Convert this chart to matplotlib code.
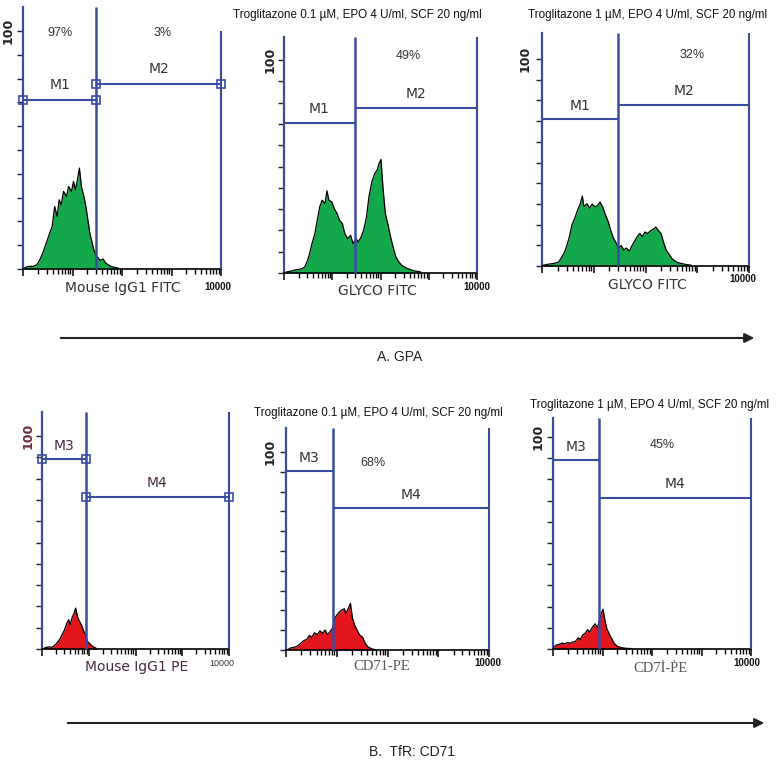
import numpy as np
import matplotlib.pyplot as plt
from matplotlib.ticker import LogLocator, NullFormatter

W, H = 780, 764
fig = plt.figure(figsize=(W / 100, H / 100), dpi=100)

NARROW = ['Liberation Sans Narrow', 'Liberation Sans', 'DejaVu Sans']
BLUE = '#3a4ca2'
GREEN = '#13a84a'
RED = '#e3141c'

# histograms: position in decades (log10 of intensity) and height (% scale)
p1_u = [0.03, 0.10, 0.20, 0.28, 0.34, 0.40, 0.47, 0.54, 0.59, 0.64, 0.69, 0.73, 0.77, 0.82,
        0.88, 0.92, 0.98, 1.02, 1.06, 1.10, 1.14, 1.18, 1.23, 1.27, 1.31, 1.35, 1.39, 1.43,
        1.47, 1.52, 1.56, 1.62, 1.67, 1.72, 1.78, 1.85, 1.92]
p1_v = [0.4, 1.1, 1.1, 1.8, 3.9, 6.7, 10.9, 15.1, 17.9, 26.3, 22.1, 29.1, 27.0, 32.6,
        30.5, 34.7, 32.6, 36.8, 33.3, 37.5, 42.4, 34.7, 30.5, 26.3, 20.7, 15.1, 11.6, 8.1,
        6.0, 4.6, 3.6, 4.2, 2.5, 1.8, 1.1, 0.7, 0.4]

p2_u = [0.05, 0.15, 0.26, 0.36, 0.43, 0.49, 0.53, 0.58, 0.64, 0.69, 0.74, 0.79, 0.85, 0.89,
        0.93, 0.99, 1.04, 1.10, 1.15, 1.21, 1.26, 1.32, 1.38, 1.43, 1.49, 1.54, 1.60, 1.65,
        1.71, 1.76, 1.82, 1.88, 1.93, 1.97, 2.01, 2.05, 2.10, 2.15, 2.21, 2.26, 2.32, 2.38,
        2.44, 2.53, 2.62, 2.72, 2.83]
p2_v = [0.5, 0.9, 1.6, 1.9, 2.8, 6.0, 9.1, 13.8, 18.5, 24.8, 31.0, 34.2, 32.6, 38.6,
        34.2, 33.4, 30.3, 27.9, 24.8, 23.2, 18.5, 16.1, 17.7, 13.8, 16.1, 14.6, 16.9, 20.1,
        26.3, 35.7, 42.8, 46.7, 48.3, 51.4, 53.3, 40.4, 27.9, 23.2, 16.9, 12.2, 7.5, 5.2,
        3.6, 2.4, 1.6, 0.9, 0.5]

p3_u = [0.03, 0.13, 0.22, 0.32, 0.38, 0.44, 0.48, 0.53, 0.58, 0.63, 0.69, 0.74, 0.78, 0.81,
        0.87, 0.92, 0.97, 1.02, 1.07, 1.12, 1.17, 1.22, 1.28, 1.33, 1.38, 1.43, 1.48, 1.53,
        1.58, 1.63, 1.69, 1.74, 1.79, 1.84, 1.89, 1.94, 1.99, 2.04, 2.10, 2.15, 2.20, 2.25,
        2.30, 2.35, 2.40, 2.46, 2.52, 2.60, 2.69, 2.79, 2.88]
p3_v = [0.4, 0.9, 1.2, 1.9, 4.1, 7.0, 9.9, 14.2, 20.0, 22.9, 27.2, 30.1, 33.8, 28.7,
        30.1, 28.0, 29.9, 28.7, 29.0, 30.9, 28.7, 25.1, 21.4, 17.1, 13.5, 11.3, 8.4, 9.9,
        7.7, 8.7, 7.2, 9.9, 12.0, 14.2, 15.7, 14.2, 16.4, 15.7, 17.1, 17.8, 18.8, 17.1,
        15.7, 11.3, 7.7, 5.5, 3.3, 1.9, 1.2, 0.7, 0.4]

p4_u = [0.02, 0.07, 0.14, 0.21, 0.26, 0.32, 0.38, 0.43, 0.48, 0.53, 0.57, 0.60, 0.65, 0.69,
        0.72, 0.76, 0.80, 0.85, 0.89, 0.93, 0.97, 1.03, 1.09, 1.16]
p4_v = [0.0, 0.6, 1.0, 0.8, 1.5, 2.8, 4.6, 6.8, 8.9, 12.1, 13.8, 11.3, 15.2, 16.9,
        19.2, 15.2, 13.1, 11.0, 8.5, 6.8, 3.7, 2.3, 1.1, 0.3]

p5_u = [0.04, 0.09, 0.14, 0.20, 0.25, 0.30, 0.35, 0.41, 0.46, 0.51, 0.56, 0.62, 0.67, 0.72,
        0.77, 0.82, 0.88, 0.92, 0.96, 1.00, 1.05, 1.10, 1.15, 1.18, 1.23, 1.27, 1.31, 1.36,
        1.40, 1.45, 1.51, 1.56, 1.61, 1.68, 1.75]
p5_v = [0.3, 1.0, 1.3, 1.7, 2.4, 3.7, 4.7, 5.4, 7.4, 6.4, 8.7, 7.7, 9.7, 8.4,
        10.1, 7.7, 9.7, 11.1, 16.0, 17.6, 19.2, 20.2, 20.8, 18.5, 21.2, 23.5, 16.0, 12.1,
        10.1, 7.6, 6.4, 3.4, 1.7, 0.7, 0.2]

p6_u = [0.02, 0.07, 0.13, 0.18, 0.24, 0.29, 0.34, 0.40, 0.45, 0.51, 0.55, 0.60, 0.65, 0.70,
        0.74, 0.80, 0.85, 0.90, 0.94, 0.98, 1.01, 1.05, 1.09, 1.14, 1.19, 1.24, 1.30, 1.39,
        1.49, 1.59]
p6_v = [0.9, 1.9, 2.2, 2.8, 2.4, 3.1, 2.7, 3.3, 3.5, 5.3, 4.4, 6.6, 7.5, 9.1,
        8.0, 10.4, 11.9, 10.0, 14.1, 17.0, 18.8, 13.5, 9.4, 6.9, 4.7, 2.5, 1.3, 0.6,
        0.3, 0.2]

# marker gates: split position (decades), left / right marker heights
gate_split = [1.48, 1.47, 1.47, 0.94, 0.92, 0.93]
gate_left = [71.0, 70.4, 71.0, 89.0, 90.4, 89.0]
gate_right = [77.7, 77.5, 77.8, 71.4, 71.7, 71.2]
gate_names = [('M1', 'M2')] * 3 + [('M3', 'M4')] * 3
percents = [[('97%', 0.75, 99), ('3%', 2.83, 99)], [('49%', 2.57, 102)], [('32%', 2.9, 102)],
            [], [('68%', 1.71, 94.4)], [('45%', 2.2, 96)]]
titles = ['', 'Troglitazone 0.1 \u00b5M, EPO 4 U/ml, SCF 20 ng/ml',
          'Troglitazone 1 \u00b5M, EPO 4 U/ml, SCF 20 ng/ml', '',
          'Troglitazone 0.1 \u00b5M, EPO 4 U/ml, SCF 20 ng/ml',
          'Troglitazone 1 \u00b5M, EPO 4 U/ml, SCF 20 ng/ml']
xlabels = ['Mouse IgG1 FITC', 'GLYCO FITC', 'GLYCO FITC', 'Mouse IgG1 PE', 'CD71-PE', 'CD7\u0130-\u1e56E']

hists = [(p1_u, p1_v), (p2_u, p2_v), (p3_u, p3_v), (p4_u, p4_v), (p5_u, p5_v), (p6_u, p6_v)]

# layout in pixels: left, right, top, bottom, y of the 100 tick
boxes = [(23, 221, 7, 269, 31), (284, 477, 37, 273, 60), (542, 749, 33, 266, 59),
         (42, 229, 412, 649, 436), (286, 489, 428, 650, 452), (553, 751, 418, 649, 437)]
title_xy = [None, (357, 15), (648, 15), None, (378, 413), (650, 405)]
xlabel_xy = [(123, 288), (377, 291), (647, 285), (137, 667), (382, 666), (660, 668)]
top_xy = [(218, 287), (477, 287), (743, 279), (222, 663), (488, 663), (747, 663)]
hundred_x = [8, 270, 525, 28, 270, 538]


def px(x, y):
    return x / W, 1 - y / H


for i in range(6):
    L, R, T, B, y100 = boxes[i]
    ytop = (B - T) / (B - y100) * 100
    ax = fig.add_axes([L / W, 1 - B / H, (R - L) / W, (B - T) / H])
    ax.set_xscale('log')
    ax.set_xlim(1, 10000)
    ax.set_ylim(0, ytop)

    u, v = hists[i]
    x = 10 ** np.array(u)
    col = GREEN if i < 3 else RED
    ax.fill_between(x, v, color=col, lw=0, zorder=2)
    ax.plot(x, v, color='black', lw=0.9, zorder=3)

    # gates
    s = 10 ** gate_split[i]
    right_top = 100 if i == 0 else ytop
    ax.vlines(s, 0, ytop, color=BLUE, lw=1.8, zorder=4, clip_on=False)
    ax.vlines(10000, 0, right_top, color=BLUE, lw=1.5, zorder=4, clip_on=False)
    ax.hlines(gate_left[i], 1, s, color=BLUE, lw=1.5, zorder=4, clip_on=False)
    ax.hlines(gate_right[i], s, 10000, color=BLUE, lw=1.5, zorder=4, clip_on=False)
    if i in (0, 3):
        ax.plot([1, s], [gate_left[i]] * 2, 's', ms=6, mfc='none', mec=BLUE, mew=1.2,
                zorder=5, clip_on=False)
        ax.plot([s, 10000], [gate_right[i]] * 2, 's', ms=6, mfc='none', mec=BLUE, mew=1.2,
                zorder=5, clip_on=False)

    tcol = '#4a2a44' if i == 3 else '#333333'
    n1, n2 = gate_names[i]
    ax.text(np.sqrt(s), gate_left[i] + 6.5, n1, ha='center', va='center', fontsize=10, color=tcol)
    ax.text(np.sqrt(s * 10000), gate_right[i] + 6.5, n2, ha='center', va='center',
            fontsize=10, color=tcol)
    for txt, pu, pv in percents[i]:
        ax.text(10 ** pu, pv, txt, ha='center', va='center', fontsize=9,
                family=NARROW, color='#333333')

    for sp in ('top', 'right'):
        ax.spines[sp].set_visible(False)
    ax.spines['left'].set_color(BLUE)
    ax.spines['left'].set_linewidth(1.6)
    ax.spines['bottom'].set_color('black')
    ax.spines['bottom'].set_linewidth(1.2)
    ax.patch.set_alpha(0)

    ax.set_yticks(np.arange(0, 101, 10))
    ax.set_yticklabels([])
    ax.tick_params(axis='y', length=4, width=1, color='#222222')
    ax.xaxis.set_major_locator(LogLocator(base=10, numticks=10))
    ax.xaxis.set_minor_locator(LogLocator(base=10, subs=np.arange(2, 10), numticks=10))
    ax.xaxis.set_major_formatter(NullFormatter())
    ax.xaxis.set_minor_formatter(NullFormatter())
    ax.tick_params(axis='x', which='major', length=5, width=1.1, color='black')
    ax.tick_params(axis='x', which='minor', length=3.5, width=1, color='black')

    hx, hy = px(hundred_x[i], y100)
    fig.text(hx, hy, '100', rotation=90, ha='center', va='center', fontsize=9,
             fontweight='bold', color='#6a2a40' if i == 3 else '#222222')

    if title_xy[i]:
        tx, ty = px(*title_xy[i])
        fig.text(tx, ty, titles[i], ha='center', va='center', fontsize=8.4, family=NARROW,
                 color='#111111')
    lx, ly = px(*xlabel_xy[i])
    if i >= 4:
        fig.text(lx, ly, xlabels[i], ha='center', va='center', fontsize=10.5,
                 family=['Liberation Serif', 'DejaVu Serif'], color='#555555')
    else:
        fig.text(lx, ly, xlabels[i], ha='center', va='center', fontsize=10,
                 color='#4a2a44' if i == 3 else '#333333')
    kx, ky = px(*top_xy[i])
    if i == 3:
        fig.text(kx, ky, '10000', ha='center', va='center', fontsize=6.5, family=NARROW,
                 color='#333333')
    else:
        fig.text(kx, ky, '10000', ha='center', va='center', fontsize=7, fontweight='bold',
                 family=NARROW, color='#111111')

# arrows and section labels
ov = fig.add_axes([0, 0, 1, 1])
ov.set_xlim(0, W)
ov.set_ylim(H, 0)
ov.axis('off')
ov.annotate('', xy=(757, 338), xytext=(58, 338),
            arrowprops=dict(arrowstyle='-|>', color='#222222', lw=1.5, mutation_scale=14))
ov.annotate('', xy=(767, 723), xytext=(65, 723),
            arrowprops=dict(arrowstyle='-|>', color='#222222', lw=1.5, mutation_scale=14))
ov.text(400, 357, 'A. GPA', ha='center', va='center', fontsize=10, family=NARROW,
        color='#222222')
ov.text(412, 752, 'B.  TfR: CD71', ha='center', va='center', fontsize=10, family=NARROW,
        color='#222222')

fig.savefig('out.png', dpi=100, facecolor='white')
